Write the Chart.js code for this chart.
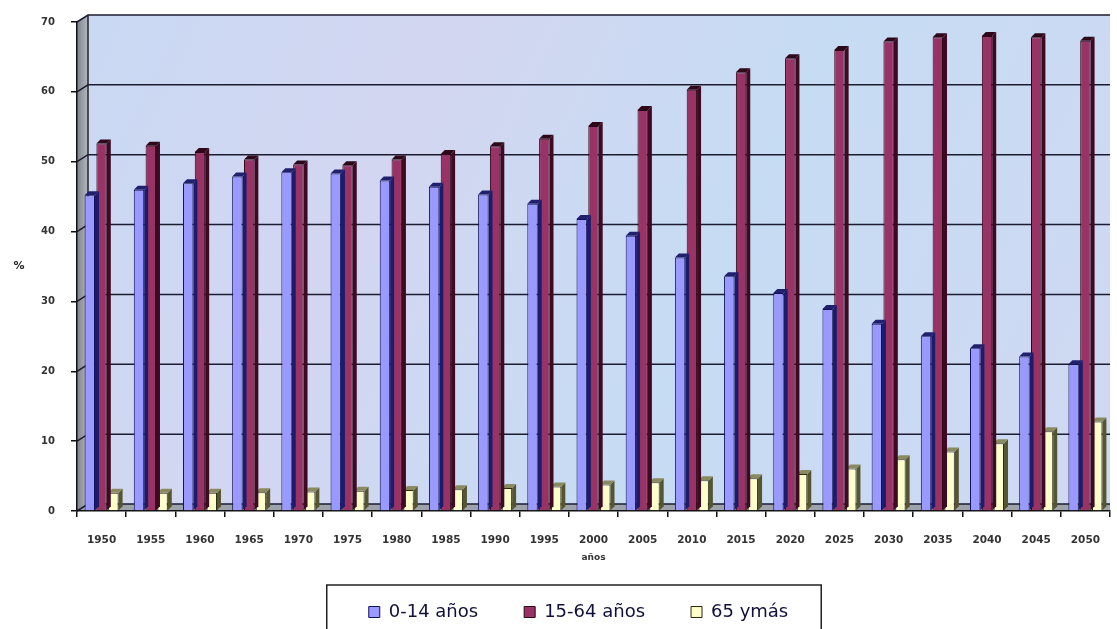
<!DOCTYPE html>
<html lang="es">
<head>
  <meta charset="UTF-8">
  <title>Población por grupos de edad</title>
  <script src="https://cdn.jsdelivr.net/npm/chart.js"></script>
  <style>
    html, body { margin: 0; padding: 0; background: #fff; }
    #wrap { width: 1117px; height: 629px; }
  </style>
</head>
<body>
  <div id="wrap"><canvas id="popChart" width="1117" height="629"></canvas></div>

  <script>
    // Data
    const years = ['1950','1955','1960','1965','1970','1975','1980','1985','1990','1995','2000',
                   '2005','2010','2015','2020','2025','2030','2035','2040','2045','2050'];
    const age0to14 = [45.2, 46.0, 46.9, 47.9, 48.5, 48.3, 47.3, 46.4, 45.3, 44.0, 41.8,
                      39.4, 36.3, 33.6, 31.2, 28.9, 26.8, 25.0, 23.3, 22.1, 21.0];
    const age15to64 = [52.6, 52.3, 51.4, 50.3, 49.6, 49.5, 50.3, 51.1, 52.2, 53.3, 55.1,
                       57.4, 60.3, 62.8, 64.8, 66.0, 67.2, 67.8, 68.0, 67.8, 67.3];
    const age65plus = [2.6, 2.6, 2.6, 2.7, 2.8, 2.9, 3.0, 3.1, 3.3, 3.5, 3.8,
                       4.1, 4.4, 4.7, 5.3, 6.1, 7.4, 8.5, 9.7, 11.4, 12.8];
    const yTicks = [0, 10, 20, 30, 40, 50, 60, 70];

    const depthX = 11, depthY = 7;   // 3D wall offset
    const barDepth = 4;

    // walls, floor and back gridlines
    const wallsPlugin = {
      id: 'walls',
      beforeDraw(chart) {
        const { ctx, chartArea: a, scales: { y } } = chart;
        const top = y.getPixelForValue(70), bottom = y.getPixelForValue(0);
        ctx.save();
        // back wall
        const g = ctx.createLinearGradient(a.left, top, a.right, bottom);
        g.addColorStop(0, '#c9d9f3');
        g.addColorStop(0.3, '#d3d6f1');
        g.addColorStop(0.6, '#c6dcf3');
        g.addColorStop(1, '#d0d8f2');
        ctx.fillStyle = g;
        ctx.fillRect(a.left + depthX, top - depthY, a.right - a.left - depthX, bottom - top);
        // left wall
        const lg = ctx.createLinearGradient(a.left, 0, a.left + depthX, 0);
        lg.addColorStop(0, '#7f838c');
        lg.addColorStop(1, '#b4b8c0');
        ctx.fillStyle = lg;
        ctx.beginPath();
        ctx.moveTo(a.left, top);
        ctx.lineTo(a.left + depthX, top - depthY);
        ctx.lineTo(a.left + depthX, bottom - depthY);
        ctx.lineTo(a.left, bottom);
        ctx.closePath();
        ctx.fill();
        // floor
        ctx.fillStyle = '#9ea2aa';
        ctx.beginPath();
        ctx.moveTo(a.left, bottom);
        ctx.lineTo(a.left + depthX, bottom - depthY);
        ctx.lineTo(a.right, bottom - depthY);
        ctx.lineTo(a.right, bottom);
        ctx.closePath();
        ctx.fill();
        // gridlines
        ctx.strokeStyle = '#1c1c30';
        ctx.lineWidth = 1.5;
        yTicks.forEach(v => {
          const py = y.getPixelForValue(v);
          ctx.beginPath();
          ctx.moveTo(a.left, py);
          ctx.lineTo(a.left + depthX, py - depthY);
          ctx.lineTo(a.right, py - depthY);
          ctx.stroke();
        });
        ctx.strokeStyle = '#222';
        ctx.beginPath();
        ctx.moveTo(a.left + depthX, top - depthY);
        ctx.lineTo(a.left + depthX, bottom - depthY);
        ctx.stroke();
        ctx.restore();
      },
      afterDraw(chart) {
        const { ctx, chartArea: a, legend } = chart;
        ctx.save();
        ctx.fillStyle = '#222';
        ctx.font = 'bold 11px "DejaVu Sans"';
        ctx.textAlign = 'center';
        ctx.textBaseline = 'middle';
        ctx.fillText('%', 19, (a.top + a.bottom) / 2);
        // legend frame
        const hb = legend.legendHitBoxes;
        if (hb && hb.length) {
          const first = hb[0], last = hb[hb.length - 1];
          const x0 = first.left - 42, x1 = last.left + last.width + 33;
          const y0 = first.top + first.height / 2 - 27;
          ctx.strokeStyle = '#222';
          ctx.lineWidth = 1.5;
          ctx.strokeRect(x0, y0, x1 - x0, 80);
        }
        ctx.restore();
      }
    };

    // pseudo 3D side and top faces on each bar
    const sideColors = ['#1c1c6a', '#3e0a22', '#555530'];
    const topColors = ['#20206e', '#2e0818', '#8a8a60'];
    const barFacesPlugin = {
      id: 'barFaces',
      afterDatasetDraw(chart, args) {
        const { ctx } = chart;
        const i = args.index;
        ctx.save();
        args.meta.data.forEach(bar => {
          const { x, y, base, width } = bar.getProps(['x', 'y', 'base', 'width'], true);
          const l = x - width / 2, r = x + width / 2;
          ctx.fillStyle = sideColors[i];
          ctx.beginPath();
          ctx.moveTo(r, y);
          ctx.lineTo(r + barDepth, y - barDepth);
          ctx.lineTo(r + barDepth, base - barDepth);
          ctx.lineTo(r, base);
          ctx.closePath();
          ctx.fill();
          ctx.fillStyle = topColors[i];
          ctx.beginPath();
          ctx.moveTo(l, y);
          ctx.lineTo(l + barDepth, y - barDepth);
          ctx.lineTo(r + barDepth, y - barDepth);
          ctx.lineTo(r, y);
          ctx.closePath();
          ctx.fill();
        });
        ctx.restore();
      }
    };

    const ctx = document.getElementById('popChart').getContext('2d');
    new Chart(ctx, {
      type: 'bar',
      data: {
        labels: years,
        datasets: [
          { label: '0-14 años', data: age0to14, backgroundColor: '#9999ff', borderColor: '#10105a', borderWidth: 1 },
          { label: '15-64 años', data: age15to64, backgroundColor: '#993366', borderColor: '#2a0515', borderWidth: 1 },
          { label: '65 ymás', data: age65plus, backgroundColor: '#ffffcc', borderColor: '#2a2a10', borderWidth: 1 }
        ]
      },
      options: {
        responsive: false,
        animation: false,
        layout: { padding: { left: 40, right: 0, top: 12, bottom: -2 } },
        datasets: { bar: { categoryPercentage: 0.72, barPercentage: 0.88 } },
        plugins: {
          tooltip: { enabled: false },
          legend: {
            position: 'bottom',
            labels: {
              boxWidth: 11,
              boxHeight: 11,
              padding: 46,
              color: '#10103a',
              font: { family: '"DejaVu Sans"', size: 18 }
            }
          }
        },
        scales: {
          x: {
            afterFit(s) { s.height = 46; },
            grid: { drawOnChartArea: false, drawTicks: true, tickLength: 6, color: '#111', lineWidth: 1.5 },
            border: { display: true, color: '#111', width: 1.5 },
            ticks: { color: '#333', padding: 17, maxRotation: 0, autoSkip: false,
                     font: { family: '"DejaVu Sans"', weight: 'bold', size: 10.5 } },
            title: { display: true, text: 'años', color: '#333', padding: { top: 0, bottom: -6 },
                     font: { family: '"DejaVu Sans"', weight: 'bold', size: 9 } }
          },
          y: {
            min: 0,
            max: 70,
            afterFit(s) { s.width = 37; },
            afterBuildTicks(s) { s.ticks = yTicks.map(v => ({ value: v })); },
            grid: { drawOnChartArea: false, drawTicks: true, tickLength: 6, color: '#111', lineWidth: 1.5 },
            border: { display: true, color: '#111', width: 1.5 },
            ticks: { color: '#333', padding: 16, crossAlign: 'near',
                     font: { family: '"DejaVu Sans"', weight: 'bold', size: 10 } }
          }
        }
      },
      plugins: [wallsPlugin, barFacesPlugin]
    });
  </script>
</body>
</html>
